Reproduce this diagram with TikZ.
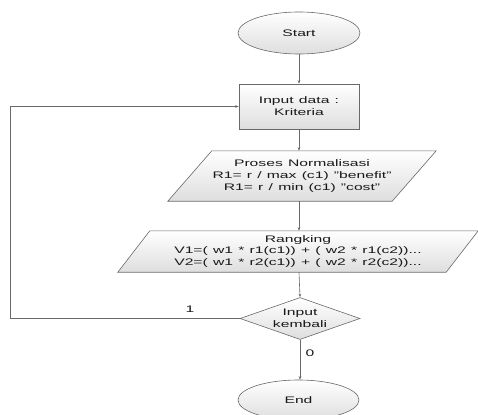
\documentclass[tikz,border=0pt]{standalone}
\usepackage{fontspec}
\setmainfont{Liberation Sans}[FakeStretch=1.65,WordSpace=1.2]
\usepackage{xcolor}
\usetikzlibrary{shapes.geometric}
\usetikzlibrary{arrows.meta}
\usetikzlibrary{backgrounds}

\definecolor{linegray}{RGB}{105,105,105}
\definecolor{fillgray}{RGB}{222,222,222}

\tikzset{
  flowline/.style={draw=linegray, line width=0.6pt},
  flowarrow/.style={flowline, -{Stealth[length=3.5pt,width=2.6pt]}},
  shapefill/.style={draw=linegray, line width=0.6pt, top color=white, bottom color=fillgray},
  flowtext/.style={font=\fontsize{9.5}{11.8}\selectfont, align=center, text=black!90},
  terminal/.style={shapefill, flowtext, ellipse, inner sep=0pt, minimum width=122, minimum height=42},
  process/.style={shapefill, flowtext, rectangle, inner sep=0pt, minimum width=120, minimum height=45},
  iotext/.style={flowtext, rectangle, inner sep=0pt},
  decision/.style={shapefill, flowtext, diamond, aspect=2.86, inner sep=0pt, minimum width=120, minimum height=42},
  edgelabel/.style={flowtext, inner sep=1pt}
}

\begin{document}
\begin{tikzpicture}[x=1pt,y=1pt,yscale=-1,xscale=1]
\useasboundingbox (0,0) rectangle (478,414);

%Terminal: Start
\node [terminal] (start) at (299,33) {Start};
%Process: input data
\node [process] (input) at (299,106.5) {Input data :\\Kriteria};
%Input/Output: normalisasi
\node [iotext, minimum width=224, minimum height=50] (norm) at (302,176) {Proses Normalisasi\\R1= r / max (c1) "benefit"\\R1= r / min (c1) "cost"};
%Input/Output: rangking
\node [iotext, minimum width=328, minimum height=41] (rank) at (298,251.5) {Rangking\\V1=( w1 * r1(c1)) + ( w2 * r1(c2))...\\V2=( w1 * r2(c1)) + ( w2 * r2(c2))...};
%Decision
\node [decision] (back) at (300,318.5) {Input\\kembali};
%Terminal: End
\node [terminal, minimum width=121, minimum height=40] (end) at (298.5,400) {End};

%Parallelograms behind the texts
\begin{scope}[on background layer]
\draw [shapefill] ([xshift=-22pt]norm.south west) -- ([xshift=-22pt]norm.south east) -- ([xshift=22pt]norm.north east) -- ([xshift=22pt]norm.north west) -- cycle;
\draw [shapefill] ([xshift=-16pt]rank.south west) -- ([xshift=-16pt]rank.south east) -- ([xshift=16pt]rank.north east) -- ([xshift=16pt]rank.north west) -- cycle;
\end{scope}

%Connectors
\draw [flowarrow] (start) -- (input);
\draw [flowarrow] (input.south) -- (input.south |- norm.north);
\draw [flowarrow] (input.south |- norm.south) -- (input.south |- rank.north);
\draw [flowarrow] (input.south |- rank.south) -- (back.north);
\draw [flowarrow] (back.south) -- (back.south |- end.north);

%Loop back
\coordinate (loop) at (10,318.5);
\draw [flowarrow] (back.west) -- (loop) -- (loop |- input.west) -- (input.west);

% Text Node
\node [edgelabel] (one) at (190,309) {1};
% Text Node
\node [edgelabel] (zero) at (310,353) {0};

\end{tikzpicture}
\end{document}
